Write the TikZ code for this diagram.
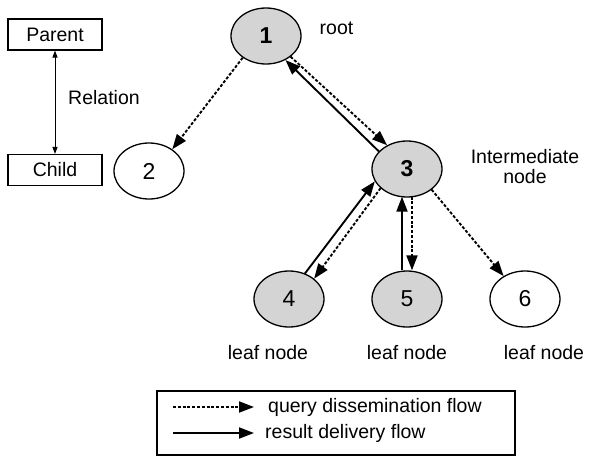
\documentclass[tikz,border=0pt]{standalone}
\usepackage{fontspec}
\setmainfont{Liberation Sans}
\usetikzlibrary{arrows.meta,shapes.geometric}
\begin{document}
\begin{tikzpicture}[x=1pt,y=-1pt,
  txt/.style={font=\fontsize{19.5}{21}\selectfont, inner sep=0pt},
  tnode/.style={ellipse, draw, line width=1.3pt, minimum width=70pt, minimum height=56pt, inner sep=0pt, font=\fontsize{23}{25}\selectfont},
  gnode/.style={tnode, fill=black!17},
  wnode/.style={tnode, fill=white},
  box/.style={draw, line width=1.1pt, minimum width=94pt, minimum height=31pt, inner sep=0pt, font=\fontsize{19.5}{21}\selectfont},
  qflow/.style={line width=1.9pt, dash pattern=on 3pt off 1.8pt, -{Triangle[length=15pt,width=11pt]}},
  rflow/.style={line width=1.9pt, -{Triangle[length=15pt,width=11pt]}},
  rel/.style={line width=0.9pt, {Triangle[length=7pt,width=5pt]}-{Triangle[length=7pt,width=5pt]}}
]
\useasboundingbox (0,0) rectangle (590,456);
\node[box] (parent) at (55,34.5) {Parent};
\node[box] (child) at (55,170) {Child};
\draw[rel] (parent.south) -- (child.north);
\node[txt, anchor=west] (relation) at (68,98) {Relation};

% tree nodes
\node[gnode] (n1) at (266,36) {\bfseries 1};
\node[wnode] (n2) at (149,171) {2};
\node[gnode] (n3) at (407,169) {\bfseries 3};
\node[gnode] (n4) at (289,299) {4};
\node[gnode] (n5) at (407,299) {5};
\node[wnode] (n6) at (525,299) {6};

\node[txt] (root) at (336.5,28) {root};
\node[txt, align=center, font=\fontsize{19.5}{20}\selectfont] (inter) at (525,167) {Intermediate\\node};
\node[txt] (leaf4) at (268,353) {leaf node};
\node[txt] (leaf5) at (407,353) {leaf node};
\node[txt] (leaf6) at (544,353) {leaf node};

% flows
\draw[qflow] (n1.-137) -- (n2.43);
\draw[qflow] (n1.-40) -- (n3.130);
\draw[rflow] (n3.148) -- (n1.-51);
\draw[qflow] (n3.-144) -- (n4.39);
\draw[rflow] (n4.58) -- (n3.-159);
\draw[rflow] ([xshift=-5pt]n5.north) -- ([xshift=-5pt,yshift=1pt]n3.south);
\draw[qflow] ([xshift=5pt,yshift=1pt]n3.south) -- ([xshift=5pt]n5.north);
\draw[qflow] (n3.-40) -- (n6.133);

% legend
\node[draw, line width=1.1pt, minimum width=358pt, minimum height=64pt, inner sep=0pt] (legend) at (336,423) {};
\coordinate (q1) at (173,407);
\coordinate (q2) at (254,407);
\coordinate (r1) at (173,433);
\coordinate (r2) at (254,433);
\draw[qflow] (q1) -- (q2);
\draw[rflow] (r1) -- (r2);
\node[txt, anchor=west] (qtext) at (268,407) {query dissemination flow};
\node[txt, anchor=west] (rtext) at (265,433) {result delivery flow};
\end{tikzpicture}
\end{document}
